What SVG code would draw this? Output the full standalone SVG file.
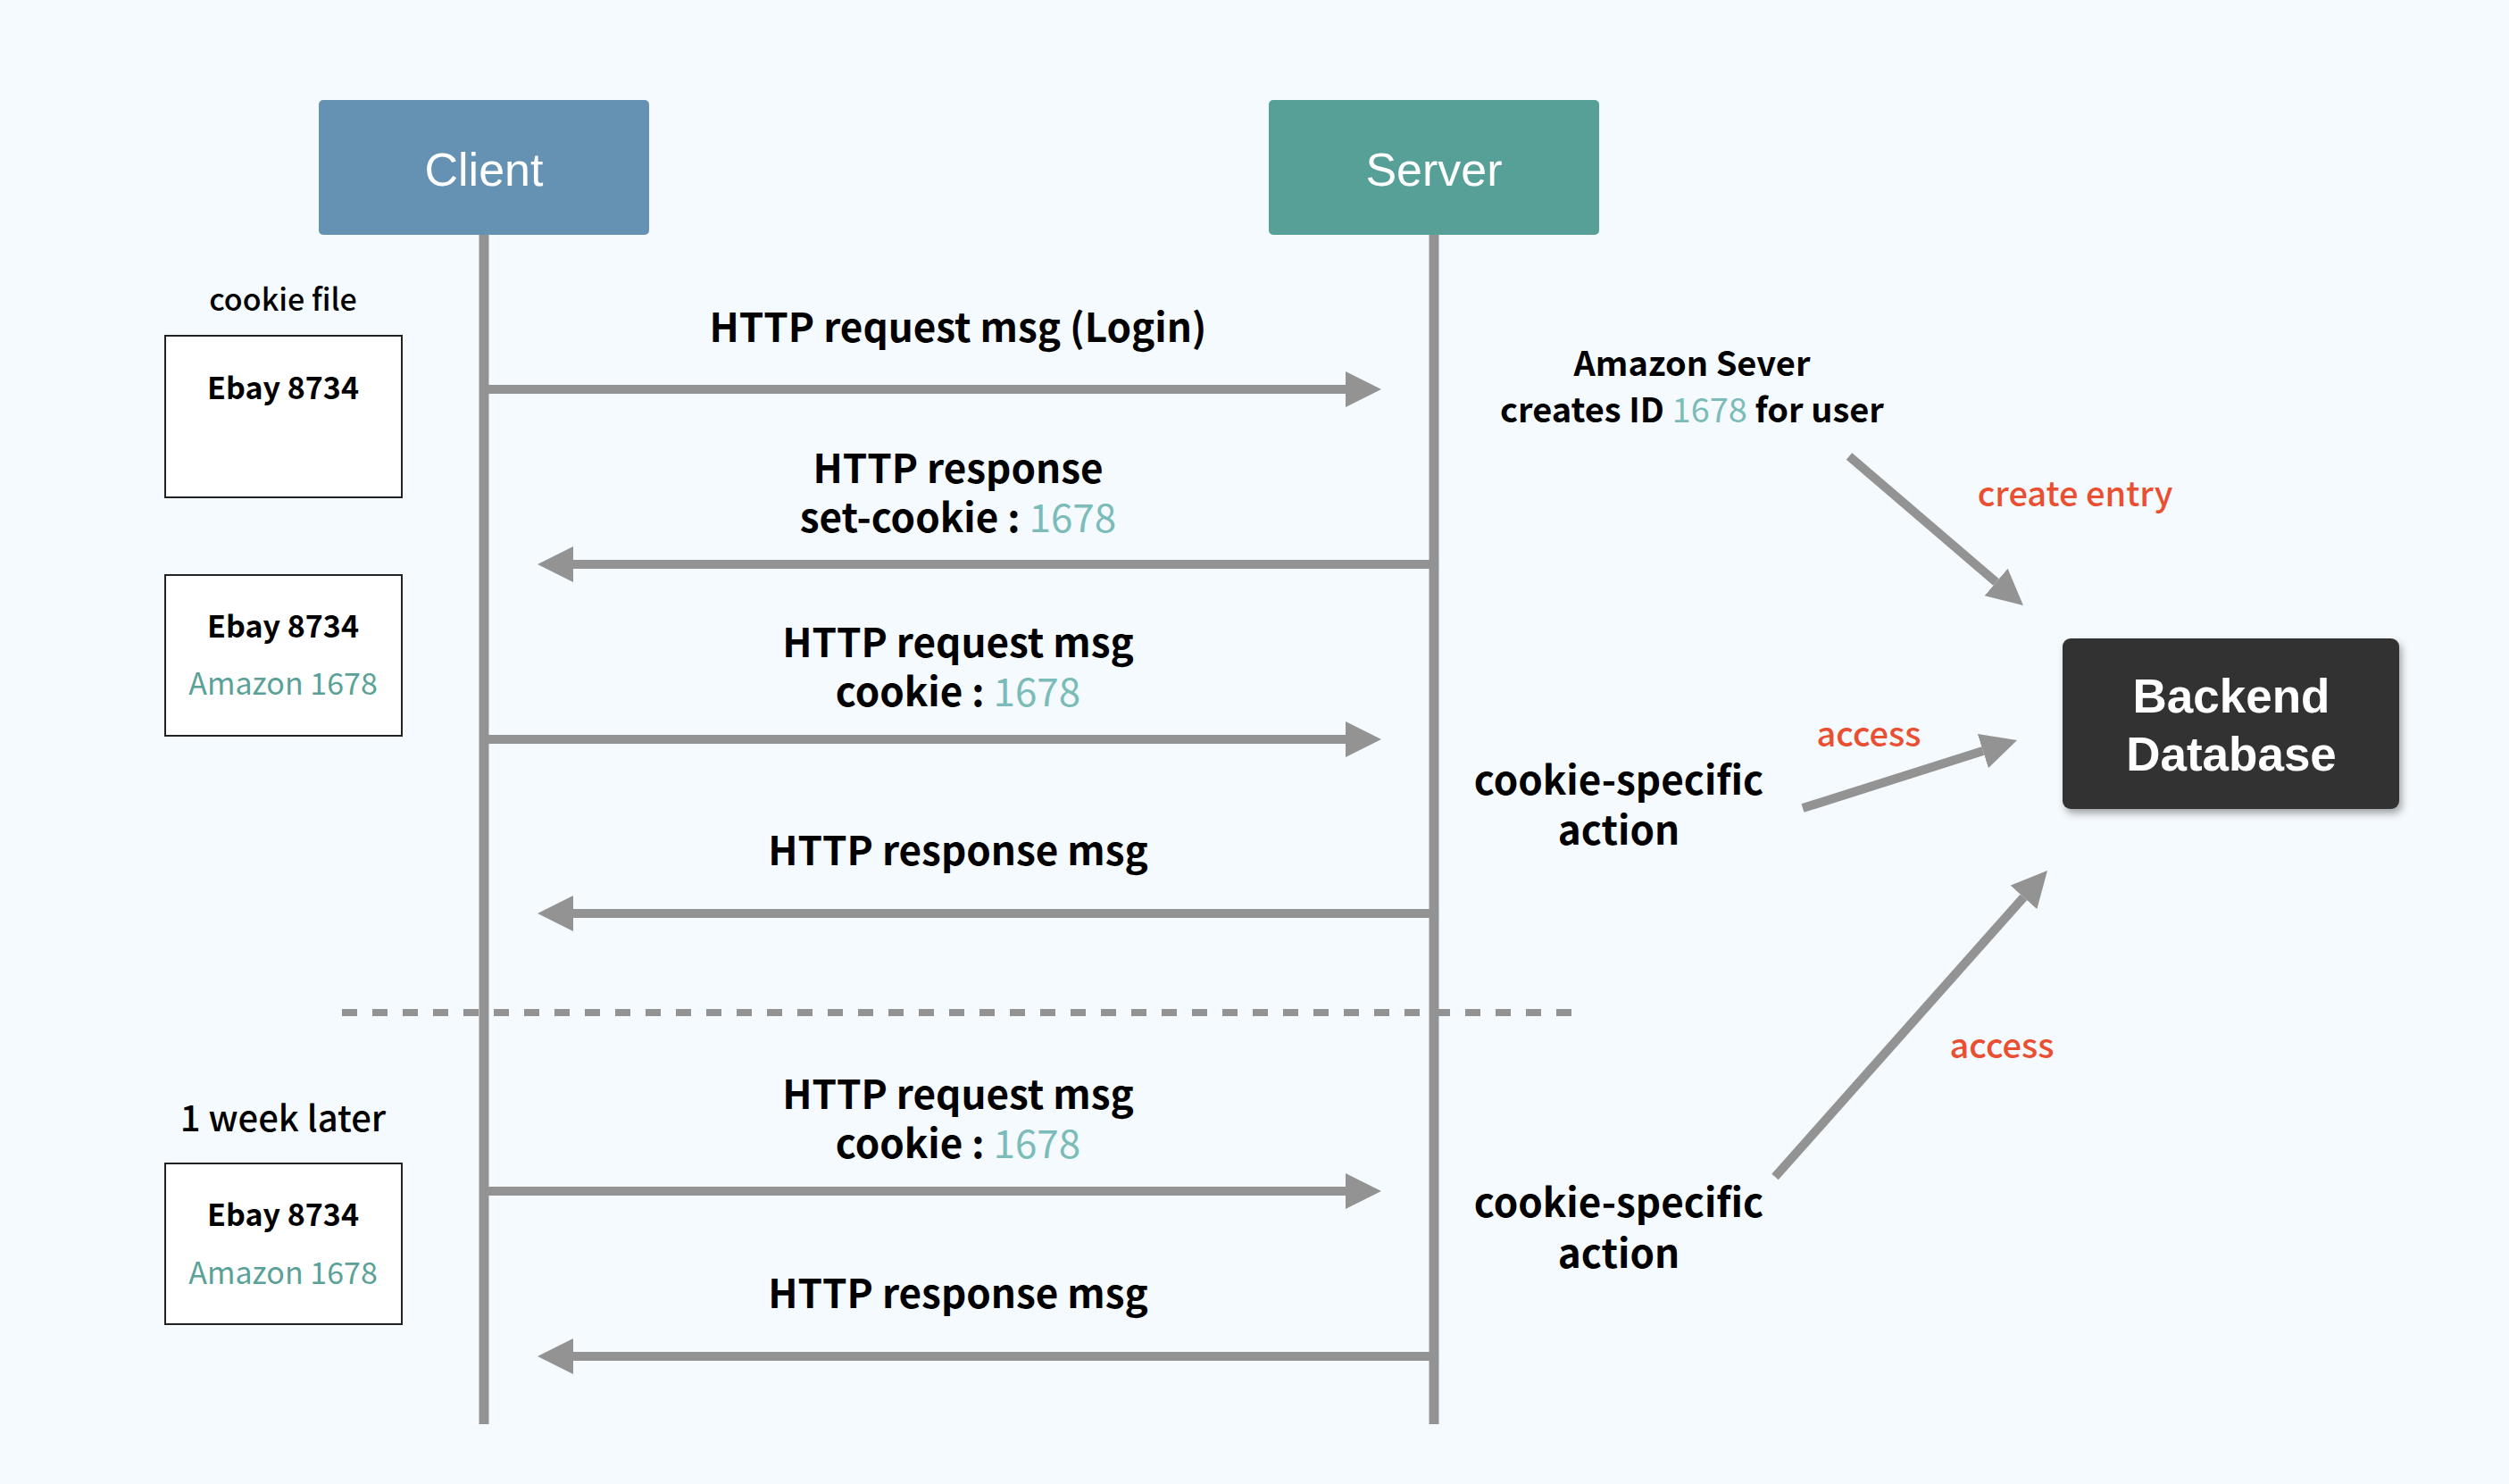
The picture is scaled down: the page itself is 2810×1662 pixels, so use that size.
<svg xmlns="http://www.w3.org/2000/svg" width="2810" height="1662" viewBox="0 0 2810 1662">
<style>
  .t { font-family: "Noto Sans CJK KR", "Noto Sans", sans-serif; font-weight: bold; fill: #000; text-anchor: middle; }
  .msg { font-size: 44px; }
  .side { font-size: 38px; }
  .act { font-size: 44px; }
  .ck { font-size: 34px; }
  .teal { fill: #7bbcb9; font-weight: normal; }
  .teal2 { fill: #5aa197; font-weight: normal; }
  .red { fill: #e94f30; font-weight: 500; }
  .hdr { font-family: "Liberation Sans", Arial, sans-serif; font-size: 52px; fill: #fff; text-anchor: middle; }
  .db { font-family: "Liberation Sans", Arial, sans-serif; font-size: 53px; font-weight: bold; fill: #fff; text-anchor: middle; }
  .life { stroke: #939393; stroke-width: 11; }
  .arr { stroke: #939393; stroke-width: 10; fill: none; marker-end: url(#ah); }
  .box { fill: #fff; stroke: #222; stroke-width: 2; }
</style>
<defs>
  <marker id="ah" viewBox="0 -20 40 40" markerWidth="40" markerHeight="40" refX="0" refY="0" orient="auto" markerUnits="userSpaceOnUse">
    <path d="M0,-20 L40,0 L0,20 z" fill="#939393"/>
  </marker>
  <filter id="sh" x="-10%" y="-10%" width="125%" height="130%">
    <feDropShadow dx="3" dy="5" stdDeviation="4" flood-color="#000" flood-opacity="0.35"/>
  </filter>
</defs>
<rect width="2810" height="1662" fill="#f5fafe"/>

<g id="lifelines">
  <line class="life" x1="542" y1="262" x2="542" y2="1595"/>
  <line class="life" x1="1606" y1="262" x2="1606" y2="1595"/>
</g>

<g id="client">
  <rect x="357" y="112" width="370" height="151" rx="5" fill="#6592b2"/>
  <text class="hdr" x="542" y="208">Client</text>
</g>
<g id="server">
  <rect x="1421" y="112" width="370" height="151" rx="5" fill="#56a097"/>
  <text class="hdr" x="1606" y="208">Server</text>
</g>

<g id="backend">
  <rect x="2310" y="715" width="377" height="191" rx="9" fill="#333" filter="url(#sh)"/>
  <text class="db" x="2499" y="798">Backend</text>
  <text class="db" x="2499" y="863">Database</text>
</g>

<g id="cookie-file-1">
  <text class="t ck" x="317" y="348" style="font-weight:500">cookie file</text>
  <rect class="box" x="185" y="376" width="265" height="181"/>
  <text class="t ck" x="317" y="447">Ebay 8734</text>
</g>
<g id="cookie-file-2">
  <rect class="box" x="185" y="644" width="265" height="180"/>
  <text class="t ck" x="317" y="714">Ebay 8734</text>
  <text class="t ck teal2" x="317" y="778">Amazon 1678</text>
</g>
<g id="cookie-file-3">
  <text class="t" x="317" y="1267" style="font-size:40px;font-weight:500">1 week later</text>
  <rect class="box" x="185" y="1303" width="265" height="180"/>
  <text class="t ck" x="317" y="1373">Ebay 8734</text>
  <text class="t ck teal2" x="317" y="1438">Amazon 1678</text>
</g>

<g id="connectors">
  <line class="arr" x1="542" y1="436" x2="1507" y2="436"/>
  <line class="arr" x1="1606" y1="632" x2="642" y2="632"/>
  <line class="arr" x1="542" y1="828" x2="1507" y2="828"/>
  <line class="arr" x1="1606" y1="1023" x2="642" y2="1023"/>
  <line class="arr" x1="542" y1="1334" x2="1507" y2="1334"/>
  <line class="arr" x1="1606" y1="1519" x2="642" y2="1519"/>
  <line x1="383" y1="1134" x2="1760" y2="1134" stroke="#939393" stroke-width="8" stroke-dasharray="17 17"/>
  <line class="arr" x1="2071" y1="511" x2="2235.6" y2="652"/>
  <line class="arr" x1="2019" y1="905" x2="2220.9" y2="841.1"/>
  <line class="arr" x1="1988" y1="1318" x2="2266.4" y2="1004.9"/>
</g>

<g id="labels">
  <text class="t msg" x="1073" y="383">HTTP request msg (Login)</text>
  <text class="t msg" x="1073" y="541">HTTP response</text>
  <text class="t msg" x="1073" y="596">set-cookie : <tspan class="teal">1678</tspan></text>
  <text class="t msg" x="1073" y="736">HTTP request msg</text>
  <text class="t msg" x="1073" y="791">cookie : <tspan class="teal">1678</tspan></text>
  <text class="t msg" x="1073" y="969">HTTP response msg</text>
  <text class="t msg" x="1073" y="1242">HTTP request msg</text>
  <text class="t msg" x="1073" y="1297">cookie : <tspan class="teal">1678</tspan></text>
  <text class="t msg" x="1073" y="1465">HTTP response msg</text>

  <text class="t side" x="1895" y="421">Amazon Sever</text>
  <text class="t side" x="1895" y="473">creates ID <tspan class="teal">1678</tspan> for user</text>
  <text class="t side red" x="2324" y="567">create entry</text>
  <text class="t side red" x="2093" y="836">access</text>
  <text class="t side red" x="2242" y="1185">access</text>
  <text class="t act" x="1813" y="890">cookie-specific</text>
  <text class="t act" x="1813" y="946">action</text>
  <text class="t act" x="1813" y="1363">cookie-specific</text>
  <text class="t act" x="1813" y="1420">action</text>
</g>
</svg>
